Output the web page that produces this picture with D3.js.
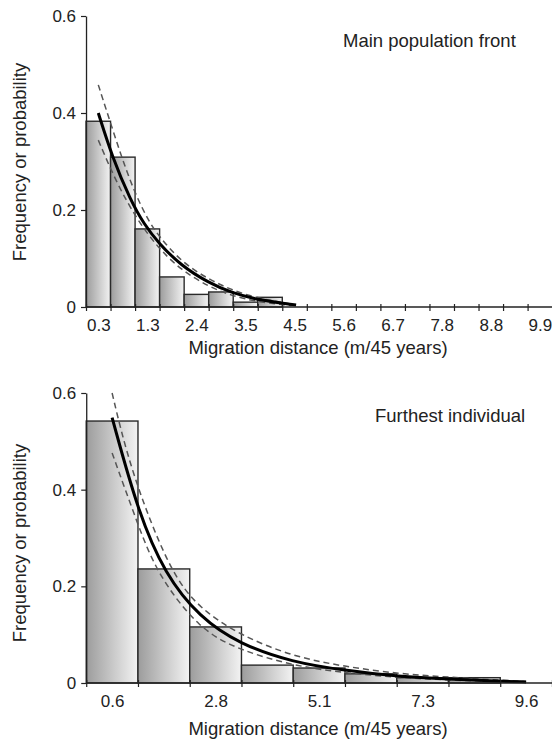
<!DOCTYPE html>
<html>
<head>
<meta charset="utf-8">
<script src="https://cdn.jsdelivr.net/npm/d3@7"></script>
<style>
  body { margin: 0; background: #fff; }
  svg { display: block; font-family: "Liberation Sans", Arial, sans-serif; }
  .tick text { fill: #222; }
</style>
</head>
<body>
<div id="root"></div>
<script>
// ---- data ----
// top panel: main population front, 19 bins
const topBinStart = 0.033;
const topBinWidth = 0.5333;
const topFreq = [0.383, 0.309, 0.161, 0.062, 0.026, 0.031, 0.01, 0.02, 0, 0, 0, 0, 0, 0, 0, 0, 0, 0, 0];
const topLabels = ['0.3', '1.3', '2.4', '3.5', '4.5', '5.6', '6.7', '7.8', '8.8', '9.9'];
const topFit = [[0.3, 0.40], [0.6, 0.31], [1.0, 0.22], [1.3, 0.17], [1.6, 0.133], [2.1, 0.085], [2.7, 0.05], [3.2, 0.029], [3.8, 0.014], [4.6, 0.004]];
const topUpper = [[0.3, 0.458], [0.63, 0.36], [1.0, 0.255], [1.36, 0.182], [1.6, 0.148], [2.1, 0.093], [2.7, 0.057], [3.2, 0.035], [3.8, 0.017], [4.5, 0.006]];
const topLower = [[0.3, 0.344], [0.7, 0.255], [1.15, 0.179], [1.6, 0.122], [2.1, 0.076], [2.7, 0.042], [3.2, 0.023], [3.8, 0.01], [4.5, 0.003]];

// bottom panel: furthest individual, 9 bins
const botBinStart = 0.0375;
const botBinWidth = 1.125;
const botFreq = [0.542, 0.236, 0.116, 0.037, 0.031, 0.019, 0.011, 0.011, 0];
const botLabels = ['0.6', '2.8', '5.1', '7.3', '9.6'];
const botFit = [[0.6, 0.549], [1.17, 0.352], [1.75, 0.225], [2.5, 0.136], [3.38, 0.08], [4.52, 0.043], [5.65, 0.026], [6.84, 0.013], [7.92, 0.008], [9.0, 0.004], [9.6, 0.002]];
const botUpper = [[0.6, 0.60], [1.0, 0.44], [1.86, 0.229], [2.5, 0.154], [3.38, 0.099], [4.52, 0.055], [5.65, 0.034], [6.84, 0.019], [7.92, 0.012], [9.0, 0.006], [9.6, 0.003]];
const botLower = [[0.6, 0.476], [1.15, 0.33], [1.58, 0.225], [2.5, 0.11], [3.38, 0.068], [4.52, 0.036], [5.65, 0.021], [6.84, 0.011], [7.92, 0.006], [9.0, 0.003], [9.6, 0.001]];

const yTicks = [0, 0.2, 0.4, 0.6];

const w = 552, h = 744;
const svg = d3.select('#root').append('svg').attr('width', w).attr('height', h);

// bar gradient, dark on the left, light on the right
const grad = svg.append('defs').append('linearGradient').attr('id', 'barFill');
grad.append('stop').attr('offset', '0%').attr('stop-color', '#9c9c9c');
grad.append('stop').attr('offset', '100%').attr('stop-color', '#f3f3f3');

const x = d3.scaleLinear().domain([0, 10.2]).range([84.5, 553.7]);

function panel(opts) {
  const { freq, binStart, binWidth, labels, fit, upper, lower, yRange, title, titlePos, xTitleY, yTitleY } = opts;
  const y = d3.scaleLinear().domain([0, 0.6]).range(yRange);
  const g = svg.append('g');
  const edges = d3.range(freq.length + 1).map(i => binStart + i * binWidth);
  const centres = d3.range(0, freq.length, 2).map(i => binStart + (i + 0.5) * binWidth);

  g.selectAll('rect')
    .data(freq.map((v, i) => ({ v, i })).filter(d => d.v > 0))
    .enter()
    .append('rect')
    .attr('x', d => x(edges[d.i]))
    .attr('y', d => y(d.v))
    .attr('width', d => x(edges[d.i + 1]) - x(edges[d.i]))
    .attr('height', d => y(0) - y(d.v))
    .attr('fill', 'url(#barFill)')
    .attr('stroke', '#2a2a2a')
    .attr('stroke-width', 1.4);

  const line = d3.line().x(d => x(d[0])).y(d => y(d[1])).curve(d3.curveBasis);

  [upper, lower].forEach(pts => {
    g.append('path')
      .attr('d', line(pts))
      .attr('fill', 'none')
      .attr('stroke', '#555')
      .attr('stroke-width', 1.5)
      .attr('stroke-dasharray', '6,4');
  });
  g.append('path')
    .attr('d', line(fit))
    .attr('fill', 'none')
    .attr('stroke', '#000')
    .attr('stroke-width', 3);

  // x axis: tick marks on bin edges
  const xAxis = d3.axisBottom(x).tickValues(edges).tickFormat('').tickSizeOuter(0);
  const gx = g.append('g')
    .attr('transform', `translate(0,${y(0)})`)
    .call(xAxis);
  gx.selectAll('.tick line').attr('y1', -3).attr('y2', 4);
  gx.select('.domain').attr('d', `M${x(binStart)},0H${w}`);

  // x labels on every second bin centre
  const labAxis = d3.axisBottom(x).tickValues(centres).tickFormat((d, i) => labels[i]).tickSize(0).tickPadding(12);
  const gl = g.append('g')
    .attr('transform', `translate(0,${y(0)})`)
    .call(labAxis);
  gl.select('.domain').remove();
  gl.selectAll('text').attr('font-size', 17).attr('font-family', null);

  // y axis
  const yAxis = d3.axisLeft(y).tickValues(yTicks)
    .tickFormat(d => d === 0 ? '0' : d.toFixed(1))
    .tickSize(5).tickSizeOuter(0).tickPadding(5);
  const gy = g.append('g')
    .attr('transform', `translate(${x(binStart)},0)`)
    .call(yAxis);
  gy.selectAll('text').attr('font-size', 17).attr('font-family', null);

  [gx, gy].forEach(a => {
    a.selectAll('.domain').attr('stroke', '#222').attr('stroke-width', 1.3);
    a.selectAll('.tick line').attr('stroke', '#222').attr('stroke-width', 1.2);
  });

  g.append('text')
    .attr('x', 318).attr('y', xTitleY)
    .attr('text-anchor', 'middle')
    .attr('font-size', 18.5).attr('fill', '#222')
    .text('Migration distance (m/45 years)');

  g.append('text')
    .attr('transform', `translate(26,${yTitleY}) rotate(-90)`)
    .attr('text-anchor', 'middle')
    .attr('font-size', 18.5).attr('fill', '#222')
    .text('Frequency or probability');

  g.append('text')
    .attr('x', titlePos[0]).attr('y', titlePos[1])
    .attr('font-size', 18.5).attr('fill', '#222')
    .text(title);
}

panel({
  freq: topFreq, binStart: topBinStart, binWidth: topBinWidth, labels: topLabels,
  fit: topFit, upper: topUpper, lower: topLower,
  yRange: [307, 16], title: 'Main population front', titlePos: [343, 47],
  xTitleY: 354, yTitleY: 162
});

panel({
  freq: botFreq, binStart: botBinStart, binWidth: botBinWidth, labels: botLabels,
  fit: botFit, upper: botUpper, lower: botLower,
  yRange: [683, 393], title: 'Furthest individual', titlePos: [375, 422],
  xTitleY: 735, yTitleY: 543
});
</script>
</body>
</html>
